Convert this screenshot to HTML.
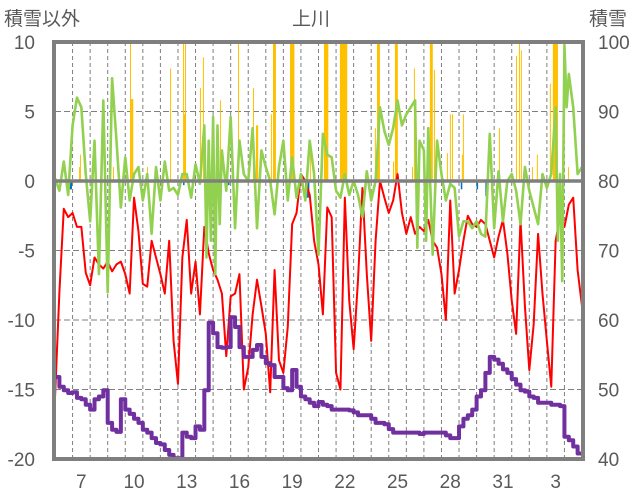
<!DOCTYPE html>
<html><head><meta charset="utf-8"><style>
body{margin:0;background:#fff;width:636px;height:501px;overflow:hidden}
svg{display:block;font-family:"Liberation Sans","Noto Sans CJK JP",sans-serif}
</style></head><body>
<svg id="chart" width="636" height="501" viewBox="0 0 636 501" xmlns="http://www.w3.org/2000/svg">
<text x="311" y="25" font-size="19" fill="#595959" text-anchor="middle">上川</text>
<text x="4" y="25" font-size="19" fill="#595959">積雪以外</text>
<text x="589" y="25" font-size="19" fill="#595959">積雪</text>
<g id="grid"></g>
<g id="bars"></g>
<g id="lines"></g>
<g id="axes"></g>
</svg>
<script>
const xTickLabels=["7","10","13","16","19","22","25","28","31","3"];
const xTickDays=[1,4,7,10,13,16,19,22,25,28];
const leftTicks=[10,5,0,-5,-10,-15,-20];
const rightTicks=[100,90,80,70,60,50,40];
const redV=[-15.6,-8,-2,-2.6,-2.3,-3.3,-3.3,-6.6,-7.5,-5.5,-6,-6.3,-5.8,-6.5,-6,-5.8,-6.7,-8.1,-1.2,-3.6,-7.4,-7.6,-4.3,-5.5,-6.7,-8.1,-4.3,-11.5,-14.6,-5.5,-2.8,-8.1,-5.8,-9.6,-3.3,-5.2,-6.4,-7.1,-8.1,-12.6,-8.3,-8.1,-6.7,-15,-13.4,-9.6,-7.1,-9,-11,-15.2,-6.4,-12.9,-13.8,-10.5,-3.1,-2.3,0.5,0,-1,-4.3,-6,-9.6,-1.9,-2.6,-13.8,-15,-1.2,-8.6,-12.1,-7.1,-0.5,-6.7,-11.5,-4.3,0,-1.2,-2.3,-1.4,0.5,-2.3,-3.8,-2.6,-3.8,-3.3,-3.6,-2.8,-4.3,-4.8,-6.7,-10,-1.4,-8.1,-6.4,-4.3,-2.5,-3.1,-3.3,-2.8,-3.1,-4.3,-5.5,-4,-2.8,-5.2,-8.6,-11,-2.8,-9,-13.6,-10.3,-3.8,-8.1,-11.5,-14.8,-4.3,-2.6,-3.3,-1.7,-1.2,-6.4,-9];
const snowV=[51.8,50.4,49.9,49.5,49.6,48.8,48.6,47.8,47.1,48.6,49,49.9,45.2,44.2,43.9,48.6,47.1,46.5,45.8,45.2,44.2,43.8,43,42.3,42.1,41.3,40.6,40.1,40.1,43.8,43.2,43,44.7,44.2,49.9,59.6,58.1,56.1,56,56.1,60.4,59,56.1,54.7,54.7,55.7,56.4,54.7,53.8,53.5,51.8,51.8,50.2,49.9,52.8,50.4,49,48.6,48.1,47.6,48.2,47.8,47.6,47.1,47.1,47.1,47.1,47,46.7,46.3,46.3,46.3,45.8,45.2,45.2,45,44.3,43.8,43.8,43.8,43.8,43.8,43.8,43.6,43.8,43.8,43.8,43.8,43.8,43.4,43,43,44.7,45.8,46.3,47.1,49,49.9,52.4,54.7,54.3,53.7,52.9,52.4,51.5,50.7,49.9,49.7,49,48.8,48.1,48.1,48.1,47.8,47.8,47.6,43.2,42.7,41.8,40.8,40.8];
const greenT=[0,0.25,0.5,0.75,1,1.25,1.5,1.75,2,2.25,2.5,2.75,3,3.25,3.5,3.75,4,4.25,4.5,4.75,5,5.25,5.5,5.75,6,6.25,6.5,6.75,7,7.25,7.5,7.75,8,8.25,8.5,8.625,8.75,8.875,9,9.125,9.25,9.375,9.5,9.75,10,10.25,10.5,10.75,11,11.25,11.5,11.75,12,12.25,12.5,12.75,13,13.25,13.5,13.75,14,14.25,14.5,14.75,15,15.25,15.5,15.75,16,16.25,16.5,16.75,17,17.25,17.5,17.75,18,18.25,18.5,18.75,19,19.25,19.5,19.75,20,20.25,20.5,20.625,20.75,21,21.125,21.25,21.5,21.75,22,22.25,22.5,22.75,23,23.25,23.5,23.75,24,24.25,24.5,24.75,25,25.25,25.5,25.75,26,26.25,26.5,26.75,27,27.25,27.5,27.75,28,28.25,28.5,28.625,28.75,28.875,29,29.125,29.25,29.5,29.625,29.75,30];
const greenV=[0.2,-0.7,1.4,-1,4,6,5.3,0.5,-2.9,2.9,-6.7,5.8,-8,7.4,2.9,-1.9,1.7,-1.4,0.5,1,-1.4,0.5,-3.8,1,-1.4,1.4,-0.7,-0.5,-1,0.5,0.5,-1.2,1.2,-0.2,4,-5.5,2.9,-4.3,4.6,-6.7,4,-3.1,2.2,-0.7,4.6,-3.4,2.9,0.5,0,3.8,-3.4,2.2,1,0,-2.4,1,2.9,-1.4,1.7,-1.2,0.5,-1.4,2.9,0.5,-5.3,3.4,1.9,1.7,-0.7,-1.2,0.5,-1,0,-1,-2.6,0.7,-1.4,0,5.3,3.6,2.6,3.8,5.8,4,4.8,5.3,5.8,-4.8,2.9,2.2,-4.3,3.8,-5.3,2.9,0.5,-1.4,-0.2,-0.5,-4,-2.9,-2.9,-3.4,-2.9,-3.8,-4,3.4,-3.4,0.7,-2.9,0,0.5,-0.7,-3.1,1,-0.7,-1.9,-3.1,0.5,-0.5,0.5,5.3,-4.3,0.5,-7.2,9.8,5.3,7.7,5.3,2.9,0.5,1];
const precipT=[1.37,1.42,3.30,4.27,4.33,5.24,6.55,7.29,7.34,7.40,8.25,8.42,9.39,10.42,11.27,11.44,12.29,12.41,13.38,14.51,15.31,16.22,18.21,18.33,19.24,19.35,20.32,20.43,21.34,21.57,22.31,22.48,22.60,23.16,23.22,25.27,26.24,26.41,26.52,27.15,27.43,28.17,28.34,29.20];
const precipV=[1,1.9,1,10,5.9,1,8.1,10,4.8,10,6.7,8.9,5.8,10,6.7,4,4.8,10,10,2.9,10,10,3.8,10,1.4,10,1,8.1,10,8,2,4.8,4.8,1.9,4.8,3.8,9,10,9.4,1,1.9,7,10,1];
const precipH=[1,1,1,1,3,1,1,1,2,1,1,1,1,1,1,3,1,4,6,1,6,10,1,4,1,4,1,1,4,1,1,1,1,1,1,1,1,1,1,1,1,1,7,1];
const meltT=[0.8,7.29,9.85,14.23,23.1,24.0,24.5];
const meltV=[-0.6,-0.3,-0.3,-1.2,-0.6,-0.6,-1.1];
const meltH=[4,1,1,6,1,1,1];

const X0=55,X1=582,Y0=42,Y1=459,NDAYS=30;
const sx=t=>X0+t*(X1-X0)/NDAYS;
const sy=v=>Y0+(10-v)*(Y1-Y0)/30;
const sr=s=>Y0+(100-s)*(Y1-Y0)/60;
const NS="http://www.w3.org/2000/svg";
function mk(tag,parent,attrs){const e=document.createElementNS(NS,tag);for(const k in attrs)e.setAttribute(k,attrs[k]);parent.appendChild(e);return e;}
const grid=document.getElementById('grid'),bars=document.getElementById('bars'),lines=document.getElementById('lines'),axes=document.getElementById('axes');
for(let d=1;d<NDAYS;d++){const l=mk('line',grid,{x1:sx(d),x2:sx(d),y1:Y0,y2:Y1,stroke:'#7f7f7f','stroke-width':1,'stroke-dasharray':'4,3'});

}
leftTicks.forEach((v,i)=>{
 if(v!==10&&v!==-20&&v!==0){const l=mk('line',grid,{x1:X0,x2:X1,y1:sy(v),y2:sy(v),stroke:'#7f7f7f','stroke-width':1,'stroke-dasharray':'6,3'});
 
 }
 const t=mk('text',axes,{x:35,y:sy(v)+7,'font-size':19,fill:'#595959','text-anchor':'end'});t.textContent=v;
 
 
 const r=mk('text',axes,{x:598,y:sy(v)+7,'font-size':19,fill:'#595959'});r.textContent=rightTicks[i];
 
 
});
xTickLabels.forEach((s,i)=>{const t=mk('text',axes,{x:sx(xTickDays[i]+0.5),y:488,'font-size':19,fill:'#595959','text-anchor':'middle'});t.textContent=s;
 
 });
precipT.forEach((t,i)=>{const v=Math.min(precipV[i],10);const b=mk('rect',bars,{x:sx(t),y:sy(v),width:Math.max(1,sx(t+precipH[i]/24)-sx(t)),height:sy(0)-sy(v),fill:'#ffc000'});
 
 });
meltT.forEach((t,i)=>{const b=mk('rect',bars,{x:sx(t),y:sy(0),width:Math.max(1.5,sx(t+meltH[i]/24)-sx(t)),height:sy(meltV[i])-sy(0),fill:'#0070c0'});
 
 });
const redStep=NDAYS/(redV.length-1);
const red=mk('polyline',lines,{points:redV.map((v,i)=>sx(i*redStep)+','+sy(v)).join(' '),fill:'none',stroke:'#ff0000','stroke-width':2,'stroke-linejoin':'round'});


const green=mk('polyline',lines,{points:greenV.map((v,i)=>sx(greenT[i])+','+sy(v)).join(' '),fill:'none',stroke:'#92d050','stroke-width':2.6,'stroke-linejoin':'round'});


const snowStep=NDAYS/(snowV.length-1);
let d='M'+sx(0)+','+sr(snowV[0]);
for(let i=1;i<snowV.length;i++){d+=' H'+sx(i*snowStep)+' V'+sr(snowV[i]);}
const purple=mk('path',lines,{d:d,fill:'none',stroke:'#7030a0','stroke-width':4,'stroke-linejoin':'round'});


const z=mk('line',axes,{x1:X0,x2:X1,y1:sy(0),y2:sy(0),stroke:'#7f7f7f','stroke-width':3.5});


const fr=mk('rect',axes,{x:X0-1,y:Y0,width:X1-X0+2,height:Y1-Y0,fill:'none',stroke:'#7f7f7f','stroke-width':4});


</script>
</body></html>
